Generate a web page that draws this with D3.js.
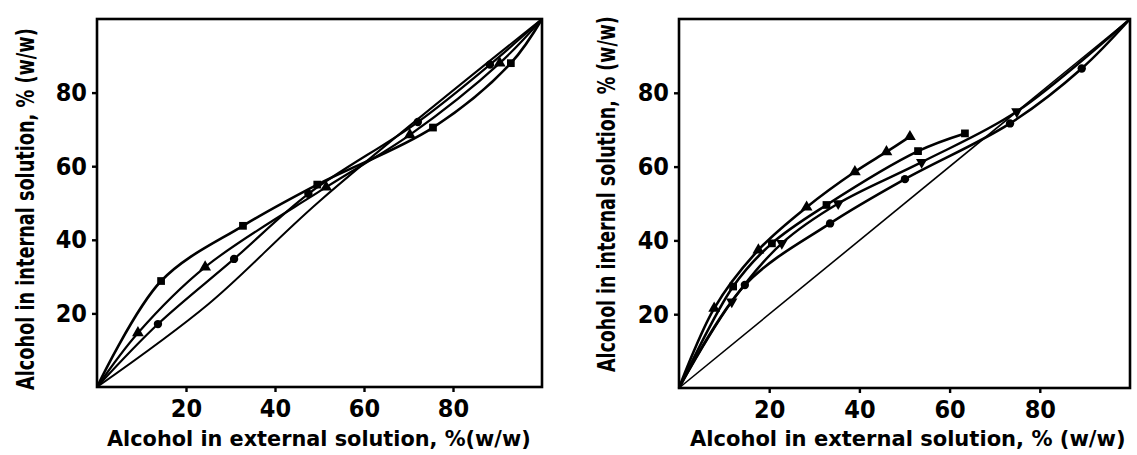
<!DOCTYPE html>
<html>
<head>
<meta charset="utf-8">
<script src="https://cdn.jsdelivr.net/npm/d3@7"></script>
<style>
  body { margin: 0; background: #fff; }
  text { fill: #000; }
</style>
</head>
<body>
<svg id="chart" width="1137" height="455"></svg>
<script>
// ---------- data ----------
const tickValues = [20, 40, 60, 80];

// left panel
const leftSquare   = [[0, 0], [14.4, 28.8], [32.8, 43.8], [49.5, 55.0], [75.5, 70.5], [93.0, 88.0], [100, 100]];
const leftTriangle = [[0, 0], [9.2, 14.7], [24.3, 32.6], [51.5, 54.3], [70.3, 68.5], [90.5, 88.0], [100, 100]];
const leftCircle   = [[0, 0], [13.7, 17.1], [30.8, 34.8], [47.5, 52.5], [72.1, 72.0], [88.3, 87.6], [100, 100]];
const leftPlain    = [[0, 0], [25, 22.5], [50, 50.5], [100, 100]];

// right panel
const rightTriUp   = [[0, 0], [7.8, 21.6], [17.6, 37.4], [28.3, 49.0], [39.0, 58.6], [46.0, 64.0], [51.2, 68.1]];
const rightSquare  = [[0, 0], [12.0, 27.5], [20.6, 39.2], [32.7, 49.6], [53.0, 64.2], [63.4, 69.0]];
const rightTriDown = [[0, 0], [11.7, 23.4], [22.8, 39.2], [35.3, 50.0], [53.8, 61.2], [74.9, 74.9], [100, 100]];
const rightCircle  = [[0, 0], [14.6, 27.9], [33.5, 44.6], [50.1, 56.6], [73.4, 71.7], [89.3, 86.6], [100, 100]];
const rightDiagonal = [[0, 0], [100, 100]];

const xLabels = ["Alcohol  in external solution, %(w/w)", "Alcohol in external solution, % (w/w)"];
const yLabels = ["Alcohol in internal solution,  % (w/w)", "Alcohol in internal solution, % (w/w)"];

// ---------- drawing ----------
const svg = d3.select("#chart");
const condensed = "'DejaVu Sans Condensed', 'Liberation Sans Narrow', 'Roboto', sans-serif";
const wide = "'DejaVu Sans', 'Verdana', sans-serif";

const panels = [
    {
        xRange: [97, 542], yRange: [387, 19],
        series: [
            { data: leftSquare, symbol: d3.symbolSquare, size: 60, width: 2.6 },
            { data: leftTriangle, symbol: d3.symbolTriangle, size: 60, width: 2.2 },
            { data: leftCircle, symbol: d3.symbolCircle, size: 55, width: 2.2 },
            { data: leftPlain, symbol: null, width: 2.0 }
        ],
        xLabel: xLabels[0], yLabel: yLabels[0],
        // [x, y, length]
        xLabelPos: [107, 446, 424], yLabelPos: [34, 390, 362]
    },
    {
        xRange: [679, 1130], yRange: [388, 19],
        series: [
            { data: rightTriUp, symbol: d3.symbolTriangle, size: 60, width: 2.6 },
            { data: rightSquare, symbol: d3.symbolSquare, size: 60, width: 2.6 },
            { data: rightTriDown, symbol: d3.symbolTriangle, rotate: 180, size: 55, width: 2.4 },
            { data: rightCircle, symbol: d3.symbolCircle, size: 55, width: 2.6 },
            { data: rightDiagonal, symbol: null, width: 1.6 }
        ],
        xLabel: xLabels[1], yLabel: yLabels[1],
        xLabelPos: [690, 446, 436], yLabelPos: [615, 372, 356]
    }
];

// squeeze a text horizontally so that it spans `len` pixels
function fitText(sel, x, y, len, angle) {
    const w = sel.node().getComputedTextLength();
    sel.attr("transform", `translate(${x},${y}) rotate(${angle}) scale(${len / w},1)`);
}

panels.forEach(p => {
    const x = d3.scaleLinear().domain([0, 100]).range(p.xRange);
    const y = d3.scaleLinear().domain([0, 100]).range(p.yRange);
    const g = svg.append("g");

    // frame
    g.append("rect")
        .attr("x", x(0)).attr("y", y(100))
        .attr("width", x(100) - x(0)).attr("height", y(0) - y(100))
        .attr("fill", "none").attr("stroke", "#000").attr("stroke-width", 2.6);

    // axes: short outside ticks, condensed numbers
    const xAxis = g.append("g")
        .attr("transform", `translate(0,${y(0)})`)
        .call(d3.axisBottom(x).tickValues(tickValues).tickSize(5).tickPadding(7));
    const yAxis = g.append("g")
        .attr("transform", `translate(${x(0)},0)`)
        .call(d3.axisLeft(y).tickValues(tickValues).tickSize(5).tickPadding(5));
    [xAxis, yAxis].forEach(a => {
        a.select(".domain").remove();
        a.selectAll("line").attr("stroke", "#000").attr("stroke-width", 2.4);
        a.selectAll("text")
            .attr("font-family", condensed)
            .attr("font-weight", 600)
            .attr("font-size", 25)
            .attr("fill", "#000");
    });
    xAxis.selectAll("text").attr("dy", "0.72em");

    // curves
    const line = d3.line()
        .x(d => x(d[0]))
        .y(d => y(d[1]))
        .curve(d3.curveCatmullRom.alpha(0.5));

    p.series.forEach(s => {
        g.append("path")
            .datum(s.data)
            .attr("d", line)
            .attr("fill", "none")
            .attr("stroke", "#000")
            .attr("stroke-width", s.width)
            .attr("stroke-linejoin", "round");

        if (!s.symbol) return;
        const pts = s.data.filter(d => d[0] > 0 && d[0] < 100);
        g.selectAll(null)
            .data(pts)
            .join("path")
                .attr("transform", d => `translate(${x(d[0])},${y(d[1])}) rotate(${s.rotate || 0})`)
                .attr("d", d3.symbol().type(s.symbol).size(s.size))
                .attr("fill", "#000");
    });

    // axis titles
    g.append("text")
        .attr("font-family", wide)
        .attr("font-weight", "bold")
        .attr("font-size", 22)
        .text(p.xLabel)
        .call(fitText, p.xLabelPos[0], p.xLabelPos[1], p.xLabelPos[2], 0);

    g.append("text")
        .attr("font-family", condensed)
        .attr("font-weight", "bold")
        .attr("font-size", 24)
        .text(p.yLabel)
        .call(fitText, p.yLabelPos[0], p.yLabelPos[1], p.yLabelPos[2], -90);
});
</script>
</body>
</html>
